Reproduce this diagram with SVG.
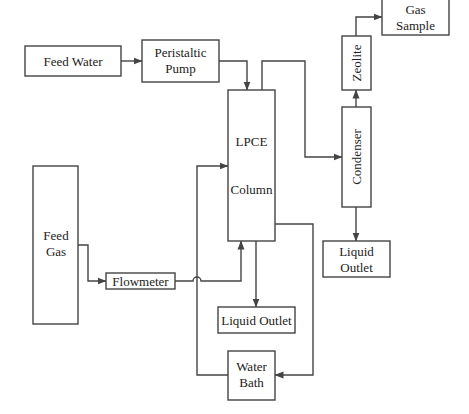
<svg xmlns="http://www.w3.org/2000/svg" width="469" height="414" viewBox="0 0 469 414">
<defs>
<style>
.box{fill:#fff;stroke:#444;stroke-width:1.4}
.ln{fill:none;stroke:#444;stroke-width:1.4}
text{font-family:"Liberation Serif","Times New Roman",serif;font-size:13px;fill:#222;text-anchor:middle}
</style>
<marker id="ah" markerWidth="9" markerHeight="8" refX="8.5" refY="4" orient="auto" markerUnits="userSpaceOnUse">
<path d="M0,0.5 L9,4 L0,7.5 Z" fill="#444"/>
</marker>
</defs>
<rect width="469" height="414" fill="#fff"/>
<g id="connectors">
<path class="ln" d="M121,61 H142" marker-end="url(#ah)"/>
<path class="ln" d="M219,61 H247 V90" marker-end="url(#ah)"/>
<path class="ln" d="M262,90 V61 H305 V157 H342" marker-end="url(#ah)"/>
<path class="ln" d="M356,107 V90" marker-end="url(#ah)"/>
<path class="ln" d="M356,36 V17 H382" marker-end="url(#ah)"/>
<path class="ln" d="M356,207 V241" marker-end="url(#ah)"/>
<path class="ln" d="M78,245 H88 V281 H106" marker-end="url(#ah)"/>
<path class="ln" d="M175,281 H193 A4,4 0 0 1 201,281 H241 V241" marker-end="url(#ah)"/>
<path class="ln" d="M228,375 H197 V166 H228" marker-end="url(#ah)"/>
<path class="ln" d="M275,224 H313 V375 H275" marker-end="url(#ah)"/>
<path class="ln" d="M256,241 V307" marker-end="url(#ah)"/>
</g>
<g id="feed-water"><rect class="box" x="25" y="46" width="96" height="30"/><text x="73" y="65.5">Feed Water</text></g>
<g id="peristaltic-pump"><rect class="box" x="142" y="40" width="77" height="42"/><text x="180.5" y="57">Peristaltic</text><text x="180.5" y="73">Pump</text></g>
<g id="lpce-column"><rect class="box" x="228" y="90" width="47" height="151"/><text x="251.5" y="146">LPCE</text><text x="251.5" y="194">Column</text></g>
<g id="condenser"><rect class="box" x="342" y="107" width="29" height="100"/><text transform="translate(360.5,157) rotate(-90)">Condenser</text></g>
<g id="zeolite"><rect class="box" x="342" y="36" width="29" height="54"/><text transform="translate(360.5,63) rotate(-90)">Zeolite</text></g>
<g id="gas-sample"><rect class="box" x="382" y="-1" width="67" height="36"/><text x="415.5" y="14">Gas</text><text x="415.5" y="29.5">Sample</text></g>
<g id="liquid-outlet-1"><rect class="box" x="323" y="241" width="67" height="36"/><text x="356.5" y="256">Liquid</text><text x="356.5" y="272">Outlet</text></g>
<g id="feed-gas"><rect class="box" x="33" y="166" width="45" height="158"/><text x="56" y="240">Feed</text><text x="56" y="256">Gas</text></g>
<g id="flowmeter"><rect class="box" x="106" y="273" width="69" height="16"/><text x="140.5" y="285.5">Flowmeter</text></g>
<g id="liquid-outlet-2"><rect class="box" x="218" y="307" width="77" height="26"/><text x="256.5" y="324.5">Liquid Outlet</text></g>
<g id="water-bath"><rect class="box" x="228" y="351" width="47" height="49"/><text x="251.5" y="371">Water</text><text x="251.5" y="387">Bath</text></g>
</svg>
